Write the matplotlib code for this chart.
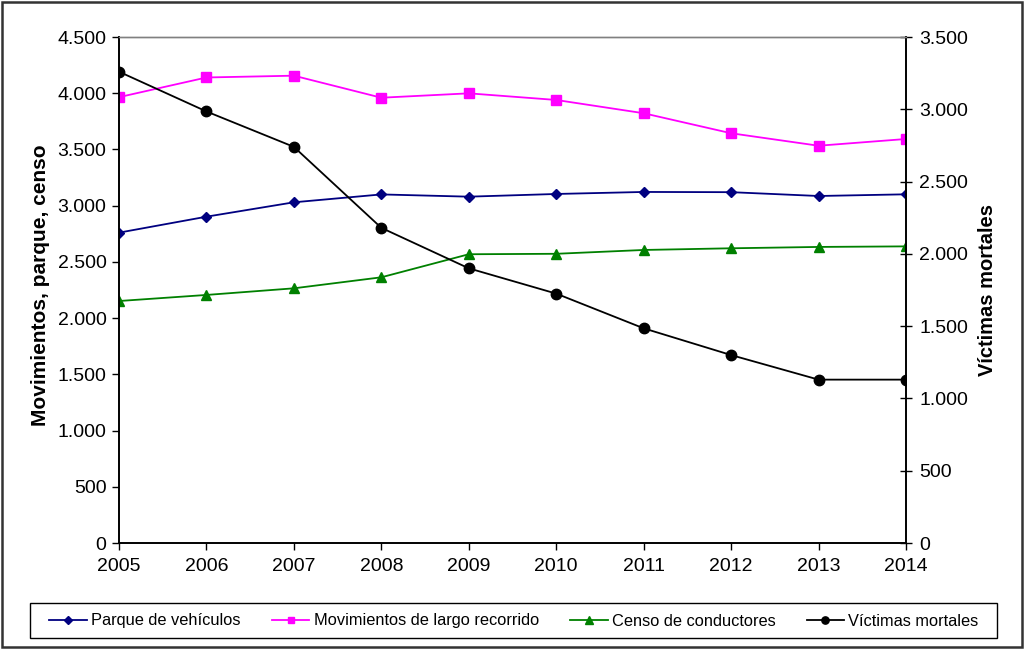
import matplotlib
matplotlib.use("Agg")
import matplotlib.pyplot as plt
from matplotlib.ticker import FuncFormatter
from matplotlib.patches import Rectangle

plt.rcParams['font.family'] = ['Liberation Sans', 'DejaVu Sans']

years = [2005, 2006, 2007, 2008, 2009, 2010, 2011, 2012, 2013, 2014]
parque = [2760, 2902, 3030, 3100, 3080, 3104, 3122, 3120, 3086, 3101]
movimientos = [3965, 4140, 4156, 3960, 3999, 3940, 3822, 3644, 3533, 3593]
censo = [2152, 2206, 2265, 2363, 2568, 2572, 2606, 2621, 2633, 2638]
victimas = [3260, 2985, 2740, 2180, 1900, 1725, 1485, 1300, 1130, 1130]

labels = ["Parque de vehículos", "Movimientos de largo recorrido",
          "Censo de conductores", "Víctimas mortales"]
left_ticks = list(range(0, 4501, 500))
right_ticks = list(range(0, 3501, 500))

def fmt(v, pos=None):
    return f"{int(v):,}".replace(",", ".")

fig = plt.figure(figsize=(10.24, 6.49), dpi=100)
ax = fig.add_axes([119/1024, 1-543/649, (906-119)/1024, (543-37)/649])
ax2 = ax.twinx()

l1, = ax.plot(years, parque, color='#000080', marker='D', markersize=5.5, lw=1.3, label=labels[0])
l2, = ax.plot(years, movimientos, color='#FF00FF', marker='s', markersize=7, lw=1.3, label=labels[1])
l3, = ax.plot(years, censo, color='#008000', marker='^', markersize=7.5, lw=1.3, label=labels[2])
l4, = ax2.plot(years, victimas, color='black', marker='o', markersize=7.5, lw=1.3, label=labels[3])

ax.set_xlim(2005, 2014)
ax.set_ylim(0, 4500)
ax2.set_ylim(0, 3500)
ax.set_xticks(years)
ax.set_yticks(left_ticks)
ax2.set_yticks(right_ticks)
ax.yaxis.set_major_formatter(FuncFormatter(fmt))
ax2.yaxis.set_major_formatter(FuncFormatter(fmt))

ax.tick_params(axis='y', labelsize=14, direction='out', length=5, width=1, pad=4)
ax.tick_params(axis='x', labelsize=14, direction='out', length=5, width=1, pad=6)
ax2.tick_params(axis='y', labelsize=14, direction='inout', length=9, width=1, pad=5)

for a in (ax, ax2):
    for s in a.spines.values():
        s.set_linewidth(1.2)
    a.spines['top'].set_color('#808080')
    a.spines['top'].set_linewidth(1.0)

ax.set_ylabel("Movimientos, parque, censo", fontsize=15, fontweight='bold')
ax.yaxis.set_label_coords(-0.088, 0.51)
ax2.set_ylabel("Víctimas mortales", fontsize=14.5, fontweight='bold', labelpad=7)

leg = fig.legend([l1, l2, l3, l4], labels, loc='center',
                 bbox_to_anchor=(514/1024, 1-621/649),
                 ncol=4, frameon=False, fontsize=11.8, handlelength=2.3,
                 handletextpad=0.25, columnspacing=1.9, markerscale=0.7,
                 borderpad=0, borderaxespad=0)

fig.patches.append(Rectangle((30/1024, 1-638/649), (997-30)/1024, 35/649,
                             transform=fig.transFigure, fill=False,
                             edgecolor='black', linewidth=1.0))
fig.patches.append(Rectangle((0.002, 0.003), 0.996, 0.994, transform=fig.transFigure,
                             fill=False, edgecolor='#333333', linewidth=1.8))

fig.savefig("out.png", dpi=100)
